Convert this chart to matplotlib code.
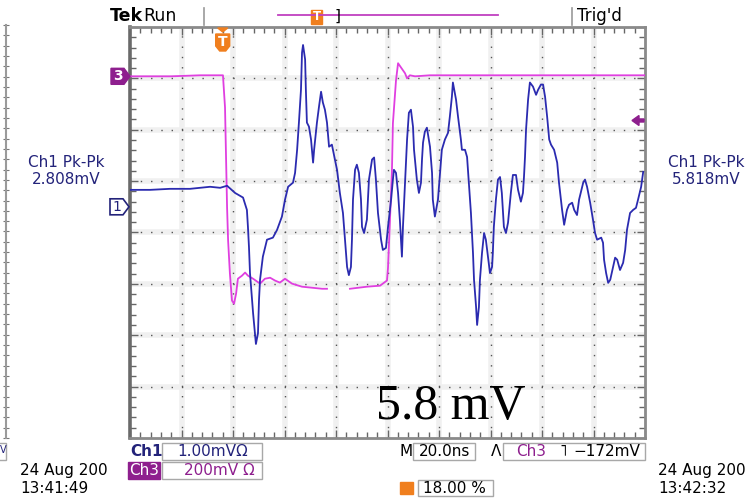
import numpy as np
import matplotlib
matplotlib.use("Agg")
import matplotlib.pyplot as plt
from matplotlib.patches import Polygon, Rectangle
from matplotlib.ticker import FixedLocator
from matplotlib.transforms import IdentityTransform

# ---- acquisition settings -------------------------------------------------
TIME_PER_DIV = 20.0          # ns / div  (M 20.0ns)
TRIG_POS = 0.18              # trigger at 18 % of record
CH1_SCALE, CH1_POS = 1.0, 0.5     # mV/div, marker position (div)
CH3_SCALE, CH3_POS = 200.0, 3.04  # mV/div, marker position (div)
TRIG_LEVEL = -172.0          # mV on Ch3

# ---- Ch1 (blue) : time in ns, amplitude in mV ------------------------------
ch1_time_ns = [
    -36.0, -28.2, -20.5, -12.7, -8.8, -4.9, -1.0, 1.7, 4.8, 7.9,
    9.4, 9.8, 10.2, 10.6, 11.8, 12.9, 13.7, 14.1, 14.5, 15.6,
    17.2, 19.5, 21.1, 23.0, 24.2, 25.4, 27.3, 28.1, 28.9, 29.6,
    30.4, 30.8, 31.2, 32.0, 32.3, 32.7, 33.5, 34.3, 35.1, 35.5,
    36.6, 37.4, 38.2, 38.9, 39.7, 40.5, 41.3, 42.4, 42.8, 44.4,
    45.5, 46.7, 47.5, 48.3, 49.0, 49.8, 50.2, 50.6, 51.4, 52.1,
    52.9, 53.7, 54.1, 54.9, 56.0, 56.8, 58.0, 58.8, 59.5, 60.3,
    61.5, 62.2, 63.4, 64.2, 65.4, 66.1, 66.5, 67.3, 68.1, 68.8,
    69.6, 70.0, 70.8, 71.6, 72.3, 73.1, 73.9, 74.3, 75.4, 76.2,
    77.0, 77.4, 77.8, 78.5, 79.3, 80.5, 81.3, 81.6, 82.4, 83.6,
    84.4, 85.1, 86.3, 87.5, 88.2, 89.0, 89.4, 90.6, 91.4, 92.5,
    92.9, 94.1, 94.9, 95.6, 96.4, 96.8, 97.2, 97.6, 98.4, 98.8,
    99.5, 99.9, 100.7, 101.5, 102.2, 103.0, 103.8, 104.6, 104.9, 105.3,
    106.1, 106.9, 107.7, 108.4, 109.2, 110.0, 110.8, 111.9, 112.7, 113.9,
    114.7, 115.8, 116.6, 117.0, 117.4, 117.8, 118.6, 119.3, 120.5, 121.7,
    122.5, 123.6, 124.4, 125.2, 126.0, 126.8, 127.5, 128.7, 129.9, 130.6,
    131.8, 132.6, 133.7, 134.5, 135.7, 136.5, 137.6, 138.4, 140.0, 140.7,
    141.5, 142.7, 143.8, 144.6, 145.4, 147.0, 147.7, 148.1, 148.9, 149.7,
    150.5, 151.6, 152.4, 153.2, 154.3, 155.5, 156.3, 157.0, 158.2, 159.4,
    160.5, 161.3, 162.5, 163.3,
]
ch1_mv = [
    0.33, 0.33, 0.35, 0.35, 0.37, 0.39, 0.37, 0.41, 0.27, 0.18,
    -0.06, -0.39, -0.78, -1.29, -2.07, -2.67, -2.46, -1.81, -1.42, -0.97,
    -0.64, -0.60, -0.45, -0.19, 0.14, 0.39, 0.47, 0.66, 1.11, 1.64,
    2.28, 3.00, 3.15, 2.87, 2.28, 1.64, 1.56, 1.31, 0.86, 1.11,
    1.64, 1.95, 2.24, 2.03, 1.89, 1.64, 1.17, 1.21, 1.11, 0.72,
    0.27, -0.12, -0.64, -1.17, -1.33, -1.17, -0.64, 0.14, 0.72, 0.82,
    0.66, 0.14, -0.39, -0.51, -0.25, 0.53, 0.92, 0.96, 0.53, -0.12,
    -0.64, -0.84, -0.80, -0.39, 0.14, 0.53, 0.72, 0.66, 0.27, -0.25,
    -0.97, -0.39, 0.47, 1.31, 1.83, 1.89, 1.56, 1.11, 0.53, 0.27,
    0.47, 0.92, 1.25, 1.46, 1.54, 1.17, 0.66, 0.14, -0.19, 0.14,
    0.66, 1.11, 1.31, 1.44, 1.75, 2.14, 2.42, 2.09, 1.75, 1.31,
    1.11, 1.11, 0.97, 0.47, -0.12, -0.51, -0.90, -1.42, -1.95, -2.30,
    -1.95, -1.42, -0.90, -0.51, -0.64, -0.97, -1.29, -1.17, -0.90, -0.39,
    0.14, 0.53, 0.58, 0.27, -0.39, -0.51, -0.31, 0.27, 0.62, 0.62,
    0.33, 0.10, 0.27, 0.58, 0.97, 1.50, 2.09, 2.42, 2.34, 2.18,
    2.28, 2.38, 2.38, 2.14, 1.75, 1.31, 1.21, 1.11, 0.86, 0.47,
    -0.06, -0.35, -0.06, 0.04, 0.08, -0.06, -0.16, 0.14, 0.47, 0.53,
    0.39, 0.08, -0.25, -0.51, -0.64, -0.60, -0.70, -1.03, -1.29, -1.48,
    -1.42, -1.17, -0.99, -1.03, -1.23, -1.09, -0.84, -0.45, -0.12, -0.06,
    -0.02, 0.14, 0.39, 0.68,
]

# ---- Ch3 (magenta) : time in ns, amplitude in mV ---------------------------
nan = float("nan")
ch3_time_ns = [
    -36.0, -20.0, -8.8, -3.0, 0.1, 0.9, 1.3, 1.7, 2.1, 2.8,
    3.6, 4.4, 5.2, 5.9, 7.5, 8.7, 9.8, 11.8, 14.5, 16.4,
    18.4, 20.3, 22.2, 24.2, 26.9, 30.8, 34.7, 38.6, 40.5, 45.0,
    49.4, 56.0, 61.1, 63.8, 64.2, 64.9, 65.7, 66.1, 67.3, 68.1,
    69.2, 70.8, 71.6, 72.7, 74.7, 80.5, 164.0,
]
ch3_mv = [
    0, 0, 4, 4, 4, -121, -316, -511, -639, -768,
    -873, -885, -846, -788, -776, -764, -776, -788, -807, -788,
    -784, -795, -803, -788, -807, -819, -823, -827, -827, nan,
    -827, -819, -815, -795, -745, -573, -378, -183, -16, 51,
    35, 12, -8, 4, 0, 4, 4,
]

# ---- readouts ---------------------------------------------------------------
ch1_label, ch3_label = "1.00mVΩ", "200mV Ω"
time_label = "20.0ns"
trig_label = "−172mV"
pos_label = "18.00 %"
pkpk_prev, pkpk_now = "2.808mV", "5.818mV"
stamp_prev, stamp_now = ("24 Aug 200", "13:41:49"), ("24 Aug 200", "13:42:32")

BLUE = "#2b2bb0"
MAGENTA = "#e03fe0"
PURPLE = "#8e1f8e"
NAVY = "#23237a"
ORANGE = "#f07f1e"
GRID = "#555555"

W, H, DPI = 750, 498, 100
fig = plt.figure(figsize=(W / DPI, H / DPI), dpi=DPI, facecolor="white")
plt.rcParams["font.family"] = ["DejaVu Sans"]


def fxy(x, y):
    """screen pixel (origin top-left) -> figure fraction"""
    return x / W, 1 - y / H


def dsp(x, y):
    """screen pixel (origin top-left) -> display coords"""
    return x, H - y


def text(x, y, s, **kw):
    kw.setdefault("va", "center")
    kw.setdefault("fontsize", 11)
    fig.text(*fxy(x, y), s, **kw)


def box(x0, y0, x1, y1, ec="#a8a8a8", fc="none", lw=1.0):
    fig.add_artist(Rectangle(dsp(x0, y1), x1 - x0, y1 - y0,
                             transform=IdentityTransform(), ec=ec, fc=fc, lw=lw))


# ---- graticule --------------------------------------------------------------
x0_ns = -TRIG_POS * 10 * TIME_PER_DIV
x1_ns = x0_ns + 10 * TIME_PER_DIV
ax = fig.add_axes([130 / W, 1 - 438 / H, 515 / W, 411 / H])
ax.set_xlim(x0_ns, x1_ns)
ax.set_ylim(-4, 4)
ax.set_facecolor("white")

for k in range(1, 10):
    xv = x0_ns + k * TIME_PER_DIV
    ax.axvline(xv, color="#f0f0f0", lw=4, zorder=0)
    ax.axvline(xv, color=GRID, lw=1.0, dashes=(1, 6.4), zorder=1)
for k in range(-3, 4):
    ax.axhline(k, color="#f0f0f0", lw=4, zorder=0)
    ax.axhline(k, color=GRID, lw=1.0, dashes=(1, 6.4), zorder=1)

ax.xaxis.set_major_locator(FixedLocator([x0_ns + k * TIME_PER_DIV for k in range(11)]))
ax.xaxis.set_minor_locator(FixedLocator([x0_ns + k * TIME_PER_DIV / 5 for k in range(51)]))
ax.yaxis.set_major_locator(FixedLocator(np.arange(-4, 5, 1.0)))
ax.yaxis.set_minor_locator(FixedLocator(np.arange(-4, 4.01, 0.2)))
ax.tick_params(which="both", direction="in", top=True, right=True,
               labelbottom=False, labelleft=False, color="#666666", width=1)
ax.tick_params(which="major", length=6)
ax.tick_params(which="minor", length=4)
for side, sp in ax.spines.items():
    sp.set_color("#8a8a8a")
    sp.set_linewidth(2.0)
ax.spines["left"].set_color("#6a6a6a")
ax.spines["left"].set_linewidth(2.6)

# ---- traces -----------------------------------------------------------------
ax.plot(ch3_time_ns, np.asarray(ch3_mv) / CH3_SCALE + CH3_POS,
        color=MAGENTA, lw=1.3, zorder=3)
ax.plot(ch1_time_ns, np.asarray(ch1_mv) / CH1_SCALE + CH1_POS,
        color=BLUE, lw=1.3, zorder=4)

fig.canvas.draw()
to_disp = ax.transData.transform

# channel ground markers
_, y3 = to_disp((0, CH3_POS))
fig.add_artist(Polygon([(111, y3 + 8), (124, y3 + 8), (130, y3), (124, y3 - 8), (111, y3 - 8)],
                       closed=True, transform=IdentityTransform(), fc=PURPLE, ec=PURPLE))
fig.text(117.5 / W, y3 / H, "3", color="white", fontsize=10, fontweight="bold",
         ha="center", va="center")
_, y1 = to_disp((0, CH1_POS))
fig.add_artist(Polygon([(110, y1 + 8), (123, y1 + 8), (129, y1), (123, y1 - 8), (110, y1 - 8)],
                       closed=True, transform=IdentityTransform(), fc="white", ec=NAVY, lw=1.2))
fig.text(116.5 / W, y1 / H, "1", color=NAVY, fontsize=10, ha="center", va="center")

# trigger level pointer (right edge)
_, yt = to_disp((0, TRIG_LEVEL / CH3_SCALE + CH3_POS))
fig.add_artist(Polygon([(632, yt), (639, yt + 5), (639, yt + 1.5), (644, yt + 1.5),
                        (644, yt - 1.5), (639, yt - 1.5), (639, yt - 5)],
                       closed=True, transform=IdentityTransform(), fc=PURPLE, ec=PURPLE))

# trigger position marker (top)
xt, ytop = to_disp((0, 4))
fig.add_artist(Polygon([(xt - 5, ytop - 1), (xt + 5, ytop - 1), (xt, ytop - 5)],
                       closed=True, transform=IdentityTransform(), fc=ORANGE, ec=ORANGE))
fig.add_artist(Polygon([(xt - 7, ytop - 7), (xt + 7, ytop - 7), (xt + 7, ytop - 19),
                        (xt + 3, ytop - 24), (xt - 3, ytop - 24), (xt - 7, ytop - 19)],
                       closed=True, transform=IdentityTransform(), fc=ORANGE, ec=ORANGE))
fig.text(xt / W, (ytop - 15) / H, "T", color="white", fontsize=10, fontweight="bold",
         ha="center", va="center")

# ---- remnant of the neighbouring screen (left edge) -------------------------
axl = fig.add_axes([(6 - 300) / W, 1 - 438 / H, 300 / W, 413 / H])
axl.set_xlim(0, 1)
axl.set_ylim(-4, 4)
for side in ("left", "top", "bottom"):
    axl.spines[side].set_visible(False)
axl.spines["right"].set_color("#9a9a9a")
axl.spines["right"].set_linewidth(1.5)
axl.set_xticks([])
axl.yaxis.set_major_locator(FixedLocator(np.arange(-4, 4.01, 0.2)))
axl.tick_params(axis="y", left=False, right=True, direction="inout", length=5,
                color="#777777", labelleft=False)
text(0, 450, "V", ha="left", fontsize=7, color=NAVY)
box(-20, 443, 6, 460)

# ---- status bar ---------------------------------------------------------------
text(110, 16, "Tek", fontsize=12.5, fontweight="bold")
text(143, 16, "Run", fontsize=12.5)
fig.add_artist(plt.Line2D([204, 204], [H - 8, H - 25], transform=IdentityTransform(),
                          color="#999999", lw=1.2))
fig.add_artist(plt.Line2D([278, 498], [H - 15, H - 15], transform=IdentityTransform(),
                          color="#c040c0", lw=1.3))
fig.add_artist(Rectangle(dsp(311, 24), 11, 14, transform=IdentityTransform(),
                         fc=ORANGE, ec=ORANGE))
text(316.5, 17, "T", fontsize=8.5, color="white", fontweight="bold", ha="center")
text(335, 16, "]", fontsize=11)
fig.add_artist(plt.Line2D([572, 572], [H - 8, H - 25], transform=IdentityTransform(),
                          color="#999999", lw=1.2))
text(577, 16, "Trig'd", fontsize=12)

# ---- measurement readouts -----------------------------------------------------
text(66, 162, "Ch1 Pk-Pk", ha="center", color=NAVY)
text(66, 179, pkpk_prev, ha="center", color=NAVY)
text(706, 162, "Ch1 Pk-Pk", ha="center", color=NAVY)
text(706, 179, pkpk_now, ha="center", color=NAVY)

# ---- channel / timebase readouts ----------------------------------------------
text(130, 451, "Ch1", color=NAVY, fontweight="bold")
box(162, 443, 262, 460)
text(213, 451, ch1_label, ha="center", color=NAVY)
box(128, 462, 160, 479, ec=PURPLE, fc=PURPLE)
text(144, 470, "Ch3", ha="center", color="white")
box(162, 462, 262, 479)
text(219, 470, ch3_label, ha="center", color=PURPLE)

text(406, 451, "M", ha="center")
box(413, 443, 475, 460)
text(445, 451, time_label, ha="center")
text(496, 451, "Λ", ha="center")
box(503, 443, 645, 460)
text(531, 451, "Ch3", ha="center", color=PURPLE)
text(563, 451, "˥", ha="center")
text(607, 451, trig_label, ha="center")

fig.add_artist(Rectangle(dsp(400, 494), 13, 12, transform=IdentityTransform(),
                         fc=ORANGE, ec=ORANGE))
box(418, 480, 493, 496)
text(454, 488, pos_label, ha="center")

# ---- time stamps ---------------------------------------------------------------
text(20, 470, stamp_prev[0])
text(20, 488, stamp_prev[1])
text(658, 470, stamp_now[0])
text(658, 488, stamp_now[1])

# ---- annotation ------------------------------------------------------------------
fig.text(*fxy(376, 419), "5.8 mV", fontsize=36, family="Liberation Serif",
         va="baseline", ha="left", color="black")

fig.savefig("out.png", dpi=DPI, facecolor="white")
